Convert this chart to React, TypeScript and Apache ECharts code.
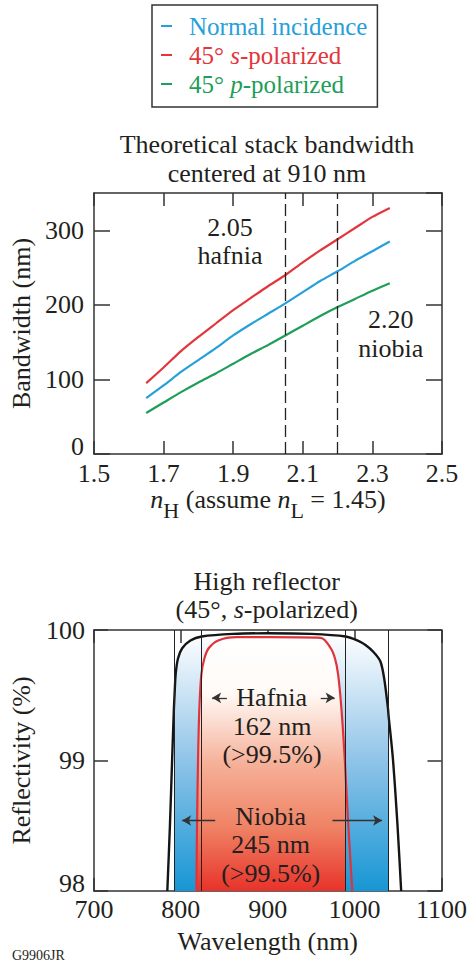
import React, { useEffect, useRef } from "react";
import * as echarts from "echarts";

const FONT = "Liberation Serif";
const INK = "#231f20";
const AXIS = "#333333";

// ---- Top chart: theoretical stack bandwidth ----
const seriesNames = ["Normal incidence", "45° s-polarized", "45° p-polarized"];
const seriesColors = ["#27a0da", "#e2363d", "#1e9e58"];
const nH = [1.65, 1.7, 1.75, 1.8, 1.85, 1.9, 1.95, 2.0, 2.05, 2.1, 2.15, 2.2, 2.25, 2.3, 2.35];
const normalIncidence = [75, 92, 110, 126, 142, 159, 174, 188, 202, 217, 232, 245, 259, 272, 285];
const sPolarized = [95, 116, 138, 157, 175, 193, 209, 225, 240, 257, 273, 288, 303, 318, 330];
const pPolarized = [55, 69, 83, 96, 108, 121, 134, 146, 159, 172, 185, 197, 208, 219, 229];
const materialIndices = [2.05, 2.2];

// ---- Bottom chart: high reflector ----
const niobiaWl = [784.4, 787.4, 790, 792, 792.7, 794, 796.6, 801.5, 811, 824, 860, 900, 950, 989.7, 1003, 1012.5, 1022, 1029.6, 1034, 1038.4, 1039, 1044, 1049.4, 1053.6];
const niobiaR = [98, 98.5, 99.02, 99.4, 99.5, 99.66, 99.78, 99.86, 99.92, 99.95, 99.97, 99.975, 99.97, 99.95, 99.92, 99.885, 99.83, 99.76, 99.63, 99.4, 99.35, 99.02, 98.5, 98];
const hafniaWl = [817.9, 818.6, 819.8, 821.3, 823.6, 827, 832, 843, 864, 900, 961, 972.6, 977.5, 981, 984.8, 988.6, 989.7, 992.8, 997.3];
const hafniaR = [98, 98.5, 99.02, 99.4, 99.66, 99.78, 99.86, 99.92, 99.945, 99.945, 99.94, 99.86, 99.78, 99.66, 99.4, 99.02, 98.88, 98.5, 98];
const hafniaBand = [824, 989.7];
const niobiaBand = [792.7, 1039];
const hafniaArrowLevel = 99.48;
const hafniaArrows = [[853, 836], [961, 977]];
const niobiaArrowLevel = 98.54;
const niobiaArrows = [[839.5, 801.5], [974.5, 1031.6]];

const txt = (text: string, x: number, y: number, size = 26, extra: any = {}) => ({
  type: "text",
  x,
  y,
  z: 100,
  silent: true,
  style: {
    text,
    fontSize: size,
    fontFamily: FONT,
    fill: INK,
    align: "center",
    verticalAlign: "middle",
    rich: { i: { fontStyle: "italic", fontSize: size, fontFamily: FONT, fill: INK } },
    ...extra,
  },
});

const tickStyle = (length: number) => ({
  show: true,
  inside: true,
  length,
  lineStyle: { color: AXIS, width: 1.5 },
});

const axisBase = {
  axisLine: { show: true, onZero: false, lineStyle: { color: AXIS, width: 1.5 } },
  splitLine: { show: false },
};

const labelStyle = (margin: number, formatter: any) => ({
  fontSize: 26,
  fontFamily: FONT,
  color: INK,
  margin,
  formatter,
  rich: { low: { fontSize: 26, fontFamily: FONT, color: INK, padding: [0, 0, 15, 0] } },
});

export default function App() {
  const ref = useRef<HTMLDivElement>(null);
  useEffect(() => {
    if (!ref.current) return;
    const chart = echarts.init(ref.current, null, { renderer: "svg" });

    const zip = (xs: number[], ys: number[]) => xs.map((x, i) => [x, ys[i]]);
    const niobiaCurve = zip(niobiaWl, niobiaR);
    const hafniaCurve = zip(hafniaWl, hafniaR);
    const blueFill = niobiaCurve.filter((p) => p[0] >= niobiaBand[0] && p[0] <= niobiaBand[1]);
    const redFill = hafniaCurve.filter((p) => p[0] <= hafniaBand[1]);

    const arrow = (pairs: number[][], level: number) =>
      pairs.map(([a, b]) => [{ coord: [a, level] }, { coord: [b, level] }]);

    const legendFmt = (name: string) =>
      name.replace(" s-", " {i|s}-").replace(" p-", " {i|p}-");

    const option: any = {
      animation: false,
      color: seriesColors,
      legend: {
        orient: "vertical",
        left: 152,
        top: 5,
        padding: [8, 10, 10, 9],
        itemGap: 3,
        itemWidth: 11,
        itemHeight: 2,
        icon: "rect",
        borderColor: AXIS,
        borderWidth: 1.5,
        selectedMode: false,
        formatter: legendFmt,
        textStyle: { fontSize: 25, fontFamily: FONT, lineHeight: 26, padding: [0, 0, 0, 12] },
        data: seriesNames.map((n, i) => ({
          name: n,
          textStyle: {
            color: seriesColors[i],
            rich: { i: { fontStyle: "italic", fontSize: 25, fontFamily: FONT, color: seriesColors[i] } },
          },
        })),
      },
      grid: [
        { left: 92, top: 193, width: 350, height: 261 },
        { left: 91, top: 630, width: 351, height: 261 },
      ],
      xAxis: [
        {
          gridIndex: 0,
          type: "value",
          min: 1.5,
          max: 2.5,
          interval: 0.2,
          position: "bottom",
          ...axisBase,
          axisTick: tickStyle(13),
          axisLabel: labelStyle(6, (v: number) => v.toFixed(1)),
          name: "{i|n}{s|H}{t| (assume }{i|n}{s|L}{t| = 1.45)}",
          nameLocation: "middle",
          nameGap: 26,
          nameTextStyle: {
            fontSize: 26,
            fontFamily: FONT,
            color: INK,
            rich: {
              i: { fontStyle: "italic", fontSize: 26, fontFamily: FONT, color: INK, lineHeight: 26, verticalAlign: "top" },
              t: { fontSize: 26, fontFamily: FONT, color: INK, lineHeight: 26, verticalAlign: "top" },
              s: { fontSize: 22, fontFamily: FONT, color: INK, lineHeight: 22, verticalAlign: "top", padding: [13, 0, 0, 0] },
            },
          },
        },
        {
          gridIndex: 0,
          type: "value",
          min: 1.5,
          max: 2.5,
          interval: 0.2,
          position: "top",
          ...axisBase,
          axisTick: tickStyle(13),
          axisLabel: { show: false },
        },
        {
          gridIndex: 1,
          type: "value",
          min: 700,
          max: 1100,
          interval: 100,
          position: "bottom",
          ...axisBase,
          axisTick: tickStyle(13),
          axisLabel: labelStyle(5, (v: number) => String(v)),
          name: "Wavelength (nm)",
          nameLocation: "middle",
          nameGap: 37,
          nameTextStyle: { fontSize: 26, fontFamily: FONT, color: INK },
        },
        {
          gridIndex: 1,
          type: "value",
          min: 700,
          max: 1100,
          interval: 100,
          position: "top",
          ...axisBase,
          axisTick: tickStyle(13),
          axisLabel: { show: false },
        },
      ],
      yAxis: [
        {
          gridIndex: 0,
          type: "value",
          min: 0,
          max: 350,
          interval: 100,
          position: "left",
          ...axisBase,
          axisTick: tickStyle(16),
          axisLabel: {
            ...labelStyle(10, (v: number) => (v === 0 ? "{low|0}" : String(v))),
            showMaxLabel: false,
          },
          name: "Bandwidth (nm)",
          nameLocation: "middle",
          nameGap: 60,
          nameTextStyle: { fontSize: 26, fontFamily: FONT, color: INK },
        },
        {
          gridIndex: 0,
          type: "value",
          min: 0,
          max: 350,
          interval: 100,
          position: "right",
          ...axisBase,
          axisTick: tickStyle(16),
          axisLabel: { show: false },
        },
        {
          gridIndex: 1,
          type: "value",
          min: 98,
          max: 100,
          interval: 1,
          position: "left",
          ...axisBase,
          axisTick: tickStyle(14),
          axisLabel: labelStyle(9, (v: number) => (v === 98 ? "{low|98}" : String(v))),
          name: "Reflectivity (%)",
          nameLocation: "middle",
          nameGap: 60,
          nameTextStyle: { fontSize: 26, fontFamily: FONT, color: INK },
        },
        {
          gridIndex: 1,
          type: "value",
          min: 98,
          max: 100,
          interval: 1,
          position: "right",
          ...axisBase,
          axisTick: tickStyle(14),
          axisLabel: { show: false },
        },
      ],
      series: [
        {
          name: seriesNames[0],
          type: "line",
          xAxisIndex: 0,
          yAxisIndex: 0,
          symbol: "none",
          smooth: 0.2,
          data: zip(nH, normalIncidence),
          itemStyle: { color: seriesColors[0] },
          lineStyle: { color: seriesColors[0], width: 2.2 },
          markLine: {
            silent: true,
            symbol: ["none", "none"],
            label: { show: false },
            lineStyle: { type: [12, 5], color: "#222", width: 1.3 },
            data: materialIndices.map((v) => ({ xAxis: v })),
          },
        },
        {
          name: seriesNames[1],
          type: "line",
          xAxisIndex: 0,
          yAxisIndex: 0,
          symbol: "none",
          smooth: 0.2,
          data: zip(nH, sPolarized),
          itemStyle: { color: seriesColors[1] },
          lineStyle: { color: seriesColors[1], width: 2.2 },
        },
        {
          name: seriesNames[2],
          type: "line",
          xAxisIndex: 0,
          yAxisIndex: 0,
          symbol: "none",
          smooth: 0.2,
          data: zip(nH, pPolarized),
          itemStyle: { color: seriesColors[2] },
          lineStyle: { color: seriesColors[2], width: 2.2 },
        },
        {
          name: "Niobia band",
          type: "line",
          xAxisIndex: 2,
          yAxisIndex: 2,
          symbol: "none",
          silent: true,
          data: blueFill,
          lineStyle: { width: 0 },
          areaStyle: {
            origin: "start",
            opacity: 1,
            color: new echarts.graphic.LinearGradient(0, 0, 0, 1, [
              { offset: 0, color: "#ffffff" },
              { offset: 0.5, color: "#8ec3e8" },
              { offset: 1, color: "#1796d4" },
            ]),
          },
          markLine: {
            silent: true,
            symbol: ["none", "none"],
            label: { show: false },
            lineStyle: { type: "solid", color: "#222", width: 1 },
            data: [...niobiaBand, ...hafniaBand].map((v) => ({ xAxis: v })),
          },
        },
        {
          name: "Hafnia band",
          type: "line",
          xAxisIndex: 2,
          yAxisIndex: 2,
          symbol: "none",
          silent: true,
          data: redFill,
          lineStyle: { width: 0 },
          areaStyle: {
            origin: "start",
            opacity: 1,
            color: new echarts.graphic.LinearGradient(0, 0, 0, 1, [
              { offset: 0, color: "#ffffff" },
              { offset: 0.22, color: "#fffaf6" },
              { offset: 0.5, color: "#f6b098" },
              { offset: 0.75, color: "#ef8264" },
              { offset: 1, color: "#e8332a" },
            ]),
          },
        },
        {
          name: "Niobia",
          type: "line",
          xAxisIndex: 2,
          yAxisIndex: 2,
          symbol: "none",
          smooth: 0.3,
          data: niobiaCurve,
          lineStyle: { color: "#151515", width: 2.4 },
          itemStyle: { color: "#151515" },
          markLine: {
            silent: true,
            symbol: ["none", "arrow"],
            symbolSize: [8, 9],
            label: { show: false },
            lineStyle: { type: "solid", color: "#333", width: 1.3 },
            data: [...arrow(hafniaArrows, hafniaArrowLevel), ...arrow(niobiaArrows, niobiaArrowLevel)],
          },
        },
        {
          name: "Hafnia",
          type: "line",
          xAxisIndex: 2,
          yAxisIndex: 2,
          symbol: "none",
          smooth: 0.3,
          data: hafniaCurve,
          lineStyle: { color: "#e0343c", width: 2.2 },
          itemStyle: { color: "#e0343c" },
        },
      ],
      graphic: [
        txt("Theoretical stack bandwidth", 267, 144.5),
        txt("centered at 910 nm", 267, 173),
        txt("2.05", 230, 227),
        txt("hafnia", 230, 255),
        txt("2.20", 390.7, 319.5),
        txt("niobia", 390.7, 348.5),
        txt("High reflector", 266.7, 581),
        txt("(45°, {i|s}-polarized)", 266.7, 609.5),
        txt("Hafnia", 271.7, 697),
        txt("162 nm", 272, 726),
        txt("(>99.5%)", 272, 754.5),
        txt("Niobia", 270.7, 816),
        txt("245 nm", 270.7, 844.5),
        txt("(>99.5%)", 270.7, 873),
        txt("G9906JR", 12, 955.5, 14, { align: "left" }),
      ],
    };
    chart.setOption(option);
    return () => chart.dispose();
  }, []);
  return (
    <div
      ref={ref}
      style={{ position: "absolute", left: 0, top: 0, width: 470, height: 966, background: "#ffffff" }}
    />
  );
}
